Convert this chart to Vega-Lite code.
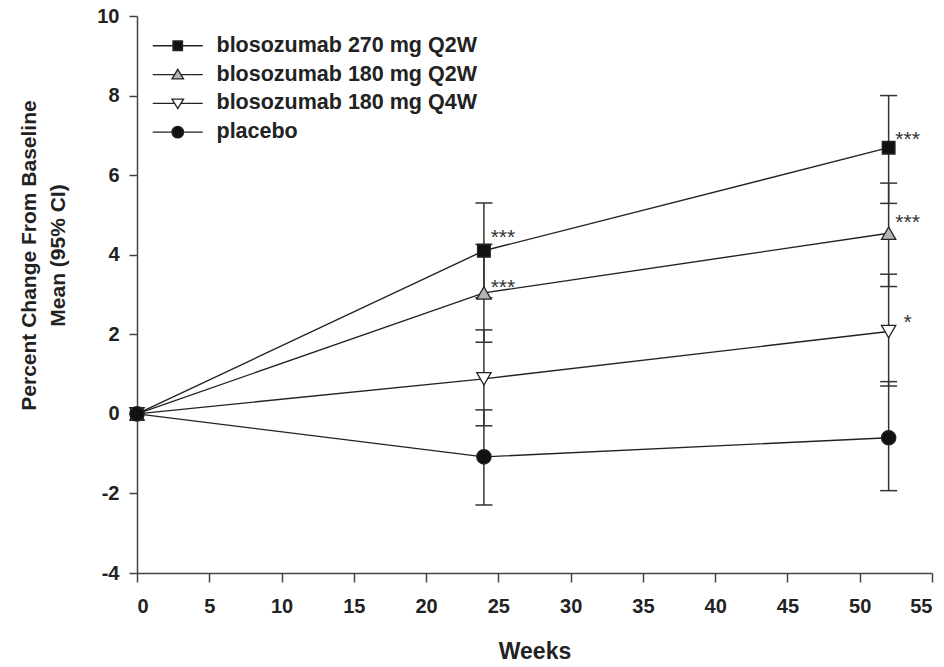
{
  "$schema": "https://vega.github.io/schema/vega-lite/v6.json",
  "autosize": "none",
  "width": 795,
  "height": 557,
  "padding": {"left": 137, "top": 16, "right": 12, "bottom": 94},
  "background": "white",
  "datasets": {
    "series": [
      {"group": "blosozumab 270 mg Q2W", "week": 0, "mean": 0, "lo": null, "hi": null},
      {"group": "blosozumab 270 mg Q2W", "week": 24, "mean": 4.1, "lo": 2.92, "hi": 5.3},
      {"group": "blosozumab 270 mg Q2W", "week": 52, "mean": 6.69, "lo": 5.29, "hi": 8.0},
      {"group": "blosozumab 180 mg Q2W", "week": 0, "mean": 0, "lo": null, "hi": null},
      {"group": "blosozumab 180 mg Q2W", "week": 24, "mean": 3.04, "lo": 1.8, "hi": 4.26},
      {"group": "blosozumab 180 mg Q2W", "week": 52, "mean": 4.54, "lo": 3.2, "hi": 5.8},
      {"group": "blosozumab 180 mg Q4W", "week": 0, "mean": 0, "lo": null, "hi": null},
      {"group": "blosozumab 180 mg Q4W", "week": 24, "mean": 0.88, "lo": -0.3, "hi": 2.11},
      {"group": "blosozumab 180 mg Q4W", "week": 52, "mean": 2.07, "lo": 0.7, "hi": 3.51},
      {"group": "placebo", "week": 0, "mean": 0, "lo": null, "hi": null},
      {"group": "placebo", "week": 24, "mean": -1.08, "lo": -2.29, "hi": 0.1},
      {"group": "placebo", "week": 52, "mean": -0.6, "lo": -1.93, "hi": 0.81}
    ],
    "stars": [
      {"week": 24, "y": 4.58, "label": "***"},
      {"week": 24, "y": 3.32, "label": "***"},
      {"week": 52, "y": 7.03, "label": "***"},
      {"week": 52, "y": 4.96, "label": "***"},
      {"week": 52, "y": 2.44, "label": "*"}
    ]
  },
  "resolve": {"scale": {"shape": "independent", "fill": "independent", "stroke": "independent"}},
  "layer": [
    {
      "data": {"name": "series"},
      "transform": [{"filter": "datum.lo != null"}],
      "mark": {"type": "rule", "color": "#333", "strokeWidth": 1.5},
      "encoding": {
        "x": {"field": "week", "type": "quantitative", "scale": {"domain": [0, 55], "nice": false, "zero": false},
          "axis": {"values": [0, 5, 10, 15, 20, 25, 30, 35, 40, 45, 50, 55], "title": "Weeks", "titleFontSize": 23, "titleY": 67, "titleBaseline": "top", "labelPadding": 14, "tickSize": 9}},
        "y": {"field": "lo", "type": "quantitative", "scale": {"domain": [-4, 10], "nice": false, "zero": false},
          "axis": {"values": [-4, -2, 0, 2, 4, 6, 8, 10], "labelExpr": "replace(datum.label, '\u2212', '-')", "title": ["Percent Change From Baseline", "Mean (95% CI)"], "titleFontSize": 21, "titleAngle": -90, "titleBaseline": "top", "titleAlign": "center", "titleX": -119, "titleY": 239, "titleLineHeight": 29, "labelPadding": 10}},
        "y2": {"field": "hi"}
      }
    },
    {
      "data": {"name": "series"},
      "transform": [{"filter": "datum.lo != null"}, {"fold": ["lo", "hi"], "as": ["end", "val"]}],
      "mark": {"type": "tick", "orient": "horizontal", "color": "#333", "size": 17, "thickness": 1.5, "opacity": 1},
      "encoding": {
        "x": {"field": "week", "type": "quantitative"},
        "y": {"field": "val", "type": "quantitative"}
      }
    },
    {
      "data": {"name": "series"},
      "mark": {"type": "line", "color": "#222", "strokeWidth": 1.4},
      "encoding": {
        "x": {"field": "week", "type": "quantitative"},
        "y": {"field": "mean", "type": "quantitative"},
        "detail": {"field": "group"}
      }
    },
    {
      "data": {"name": "series"},
      "transform": [{"filter": "datum.group === 'blosozumab 270 mg Q2W'"}],
      "mark": {"type": "point", "shape": "square", "filled": true, "opacity": 1, "fill": "#111111", "stroke": "#222", "strokeWidth": 1.3, "size": 160},
      "encoding": {
        "x": {"field": "week", "type": "quantitative"},
        "y": {"field": "mean", "type": "quantitative"}
      }
    },
    {
      "data": {"name": "series"},
      "transform": [{"filter": "datum.group !== 'blosozumab 270 mg Q2W'"}],
      "mark": {"type": "point", "filled": true, "opacity": 1, "stroke": "#222", "strokeWidth": 1.3, "size": 205},
      "encoding": {
        "x": {"field": "week", "type": "quantitative"},
        "y": {"field": "mean", "type": "quantitative"},
        "shape": {
          "field": "group", "type": "nominal",
          "scale": {"domain": ["blosozumab 180 mg Q2W", "blosozumab 180 mg Q4W", "placebo"], "range": ["triangle-up", "triangle-down", "circle"]},
          "legend": null
        },
        "fill": {
          "field": "group", "type": "nominal",
          "scale": {"domain": ["blosozumab 180 mg Q2W", "blosozumab 180 mg Q4W", "placebo"], "range": ["#b4b4b4", "#ffffff", "#111111"]},
          "legend": null
        }
      }
    },
    {
      "data": {"name": "series"},
      "transform": [{"filter": "datum.week < 0"}],
      "mark": {"type": "point", "filled": true, "opacity": 1, "strokeWidth": 1.3, "size": 100},
      "encoding": {
        "x": {"field": "week", "type": "quantitative"},
        "y": {"field": "mean", "type": "quantitative"},
        "shape": {
          "field": "group", "type": "nominal",
          "scale": {"domain": ["blosozumab 270 mg Q2W", "blosozumab 180 mg Q2W", "blosozumab 180 mg Q4W", "placebo"],
            "range": ["M-5,0H-0.95M0.95,0H5M-0.95,-0.95H0.95V0.95H-0.95Z", "M-5,0H-0.63M0.63,0H5M0,-1.05L1.15,0.85L-1.15,0.85Z", "M-5,0H-0.63M0.63,0H5M0,1.05L1.15,-0.85L-1.15,-0.85Z", "M-5,0H-1.15M1.15,0H5M-1.15,0A1.15,1.15,0,1,0,1.15,0A1.15,1.15,0,1,0,-1.15,0Z"]},
          "legend": {"title": null, "orient": "none", "legendX": 30, "legendY": 19, "labelFontSize": 21.5, "labelFontWeight": "bold", "labelColor": "#222", "labelOffset": 28, "labelLimit": 400, "rowPadding": 5.8, "symbolStrokeWidth": 1.3, "symbolSize": 100}
        },
        "fill": {
          "field": "group", "type": "nominal",
          "scale": {"domain": ["blosozumab 270 mg Q2W", "blosozumab 180 mg Q2W", "blosozumab 180 mg Q4W", "placebo"], "range": ["#111111", "#b4b4b4", "#ffffff", "#111111"]},
          "legend": {"title": null, "orient": "none", "legendX": 30, "legendY": 19, "labelFontSize": 21.5, "labelFontWeight": "bold", "labelColor": "#222", "labelOffset": 28, "labelLimit": 400, "rowPadding": 5.8, "symbolStrokeWidth": 1.3, "symbolSize": 100}
        },
        "stroke": {
          "field": "group", "type": "nominal",
          "scale": {"domain": ["blosozumab 270 mg Q2W", "blosozumab 180 mg Q2W", "blosozumab 180 mg Q4W", "placebo"], "range": ["#222222", "#222222", "#222222", "#222222"]},
          "legend": {"title": null, "orient": "none", "legendX": 30, "legendY": 19, "labelFontSize": 21.5, "labelFontWeight": "bold", "labelColor": "#222", "labelOffset": 28, "labelLimit": 400, "rowPadding": 5.8, "symbolStrokeWidth": 1.3, "symbolSize": 100}
        }
      }
    },
    {
      "data": {"name": "stars"},
      "mark": {"type": "text", "align": "center", "baseline": "middle", "fontSize": 21, "font": "Liberation Sans", "color": "#333", "dy": 6},
      "encoding": {
        "x": {"field": "week", "type": "quantitative"},
        "y": {"field": "y", "type": "quantitative"},
        "text": {"field": "label"},
        "xOffset": {"condition": {"test": "datum.week > 40", "value": 23}, "value": 19}
      }
    }
  ],
  "config": {
    "view": {"stroke": null},
    "font": "Liberation Sans",
    "legend": {"labelFont": "Liberation Sans"},
    "axis": {
      "grid": false,
      "domainColor": "#444",
      "domainWidth": 1.5,
      "tickColor": "#444",
      "tickWidth": 1.5,
      "tickSize": 8,
      "labelFont": "Liberation Sans",
      "labelFontWeight": "bold",
      "labelFontSize": 20,
      "labelColor": "#222",
      "titleFont": "Liberation Sans",
      "titleFontWeight": "bold",
      "titleColor": "#222"
    }
  }
}
